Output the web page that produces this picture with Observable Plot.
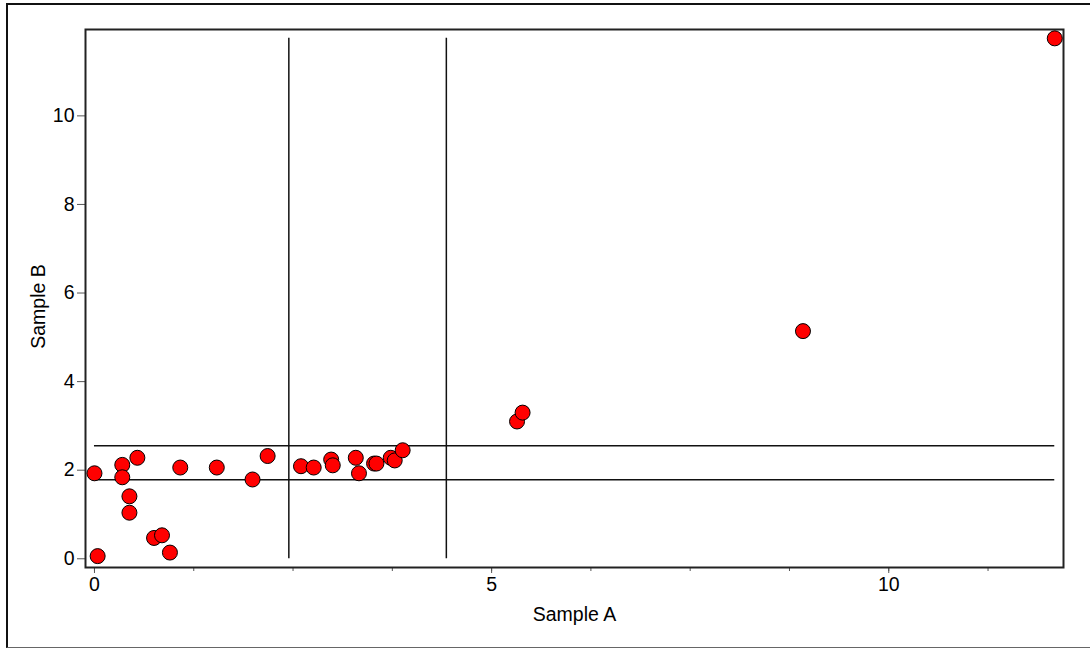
<!DOCTYPE html>
<html>
<head>
<meta charset="utf-8">
<script src="https://cdn.jsdelivr.net/npm/d3@7"></script>
<script src="https://cdn.jsdelivr.net/npm/@observablehq/plot@0.6"></script>
<style>
  html, body { margin: 0; padding: 0; background: #fff; }
  #wrap { position: relative; width: 1090px; height: 648px; overflow: hidden; }
  #border { position: absolute; left: 6px; top: 3px; width: 1100px; height: 642px;
            border-left: 2px solid #111; border-top: 2px solid #111; border-bottom: 1px solid #666; }
  #chart { position: absolute; left: 0; top: 0; }
</style>
</head>
<body>
<div id="wrap"><div id="border"></div><div id="chart"></div></div>
<script>
const sampleA = [0.00, 0.04, 0.35, 0.35, 0.54, 0.44, 0.44, 0.75, 0.85, 0.95, 1.08, 1.54, 1.99, 2.18, 2.60, 2.76, 2.98, 3.00, 3.29, 3.33, 3.52, 3.55, 3.73, 3.78, 3.88, 5.32, 5.39, 8.92, 12.09];
const sampleB = [1.93, 0.06, 2.12, 1.84, 2.28, 1.41, 1.04, 0.47, 0.53, 0.14, 2.06, 2.06, 1.79, 2.32, 2.09, 2.06, 2.24, 2.11, 2.28, 1.93, 2.15, 2.15, 2.28, 2.22, 2.45, 3.10, 3.30, 5.14, 11.75];
const verticalCuts = [2.447, 4.43];
const horizontalCuts = [2.55, 1.785];
const xTicks = [0, 5, 10];
const xMinorTicks = [0, 1.25, 2.5, 3.75, 5, 6.25, 7.5, 8.75, 10, 11.25];
const yTicks = [0, 2, 4, 6, 8, 10];
const xTitle = "Sample A";
const yTitle = "Sample B";

const points = sampleA.map((a, i) => ({a, b: sampleB[i]}));
const maxA = d3.max(sampleA), maxB = d3.max(sampleB);

const chart = Plot.plot({
  width: 1090,
  height: 648,
  marginLeft: 85,
  marginRight: 27,
  marginTop: 29,
  marginBottom: 81,
  style: {fontFamily: "'Liberation Sans', Arial, sans-serif", fontSize: "19.5px", color: "#000", background: "transparent"},
  x: {domain: [-0.113, 12.2]},
  y: {domain: [-0.197, 11.95]},
  marks: [
    Plot.axisX({ticks: xMinorTicks, tickSize: 4, tickFormat: () => "", label: null, stroke: "#555"}),
    Plot.axisX({ticks: xTicks, tickSize: 6, tickPadding: 4, label: xTitle, labelAnchor: "center", labelArrow: "none", labelOffset: 53, stroke: "#555", fontSize: 19.5}),
    Plot.axisY({ticks: yTicks, tickSize: 8, tickPadding: 3, label: null, stroke: "#555", fontSize: 19.5}),
    Plot.text([yTitle], {text: d => d, frameAnchor: "left", textAnchor: "middle", dx: -47, dy: 8, rotate: -90, fontSize: 19.5, fill: "#000"}),
    Plot.ruleX(verticalCuts, {x: d => d, y1: 0, y2: maxB, stroke: "#111", strokeWidth: 1.5}),
    Plot.ruleY(horizontalCuts, {y: d => d, x1: 0, x2: maxA, stroke: "#111", strokeWidth: 1.5}),
    Plot.frame({stroke: "#222", strokeWidth: 2}),
    Plot.dot(points, {x: "a", y: "b", r: 7.5, fill: "#ff0000", stroke: "#000", strokeWidth: 1})
  ]
});
document.getElementById("chart").appendChild(chart);
</script>
</body>
</html>
